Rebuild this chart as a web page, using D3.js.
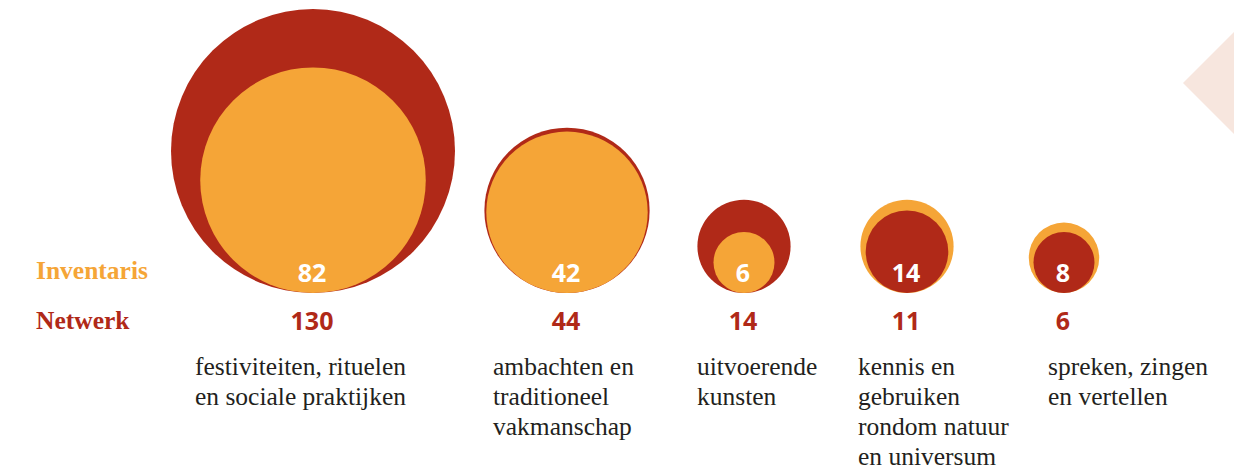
<!DOCTYPE html>
<html>
<head>
<meta charset="utf-8">
<script src="https://cdn.jsdelivr.net/npm/d3@7"></script>
<style>
  body { margin: 0; background: #fff; }
</style>
</head>
<body>
<div id="chart"></div>
<script>
// data
const categories = [
    ["festiviteiten, rituelen", "en sociale praktijken"],
    ["ambachten en", "traditioneel", "vakmanschap"],
    ["uitvoerende", "kunsten"],
    ["kennis en", "gebruiken", "rondom natuur", "en universum"],
    ["spreken, zingen", "en vertellen"]
];
const inventaris = [82, 42, 6, 14, 8];
const netwerk = [130, 44, 14, 11, 6];
const seriesNames = ["Inventaris", "Netwerk"];

// layout (kolommen)
const centerX = [313, 567, 744, 907, 1064];
const labelX = [195, 493, 697, 858, 1048];

const dark = "#b02918";
const orange = "#f5a537";

const svg = d3.select("#chart").append("svg")
    .attr("width", 1234)
    .attr("height", 469);

// decoratieve ruit rechts
svg.append("polygon")
    .attr("points", "1183,83 1283,-17 1383,83 1283,183")
    .attr("fill", "#f7e6de");

const idx = d3.range(categories.length);
const x = d3.scaleOrdinal().domain(idx).range(centerX);
const r = d3.scaleSqrt().domain([0, 130]).range([0, 142]);
const baseY = 293;

// cirkels: grootste eerst
idx.forEach(i => {
    const pair = [
        { v: netwerk[i], c: dark },
        { v: inventaris[i], c: orange }
    ].sort((a, b) => b.v - a.v);
    svg.selectAll(null)
        .data(pair)
        .enter()
        .append("circle")
        .attr("cx", x(i))
        .attr("cy", d => baseY - r(d.v))
        .attr("r", d => r(d.v))
        .attr("fill", d => d.c);
});

// waarden inventaris (wit in cirkel)
svg.selectAll("text.inv")
    .data(inventaris)
    .enter()
    .append("text")
    .attr("class", "inv")
    .attr("x", (d, i) => x(i) - 1)
    .attr("y", 282)
    .attr("text-anchor", "middle")
    .style("font-family", "'Open Sans', sans-serif")
    .style("font-weight", "bold")
    .style("font-size", "25px")
    .style("fill", "#fff")
    .text(d => d);

// waarden netwerk
svg.selectAll("text.net")
    .data(netwerk)
    .enter()
    .append("text")
    .attr("class", "net")
    .attr("x", (d, i) => x(i) - 1)
    .attr("y", 330)
    .attr("text-anchor", "middle")
    .style("font-family", "'Open Sans', sans-serif")
    .style("font-weight", "bold")
    .style("font-size", "25px")
    .style("fill", dark)
    .text(d => d);

// legenda links
svg.selectAll("text.series")
    .data(seriesNames)
    .enter()
    .append("text")
    .attr("class", "series")
    .attr("x", 36)
    .attr("y", (d, i) => i === 0 ? 279 : 329)
    .style("font-family", "'Liberation Serif', serif")
    .style("font-weight", "bold")
    .style("font-size", "25.5px")
    .style("fill", (d, i) => i === 0 ? orange : dark)
    .text(d => d);

// categorie labels
const labels = svg.selectAll("text.cat")
    .data(categories)
    .enter()
    .append("text")
    .attr("class", "cat")
    .attr("x", (d, i) => labelX[i])
    .attr("y", 375)
    .style("font-family", "'Liberation Serif', serif")
    .style("font-size", "25.5px")
    .style("fill", "#231f20");

labels.selectAll("tspan")
    .data((d, i) => d.map(t => ({ t, i })))
    .enter()
    .append("tspan")
    .attr("x", d => labelX[d.i])
    .attr("dy", (d, j) => j === 0 ? 0 : 30)
    .text(d => d.t);
</script>
</body>
</html>
